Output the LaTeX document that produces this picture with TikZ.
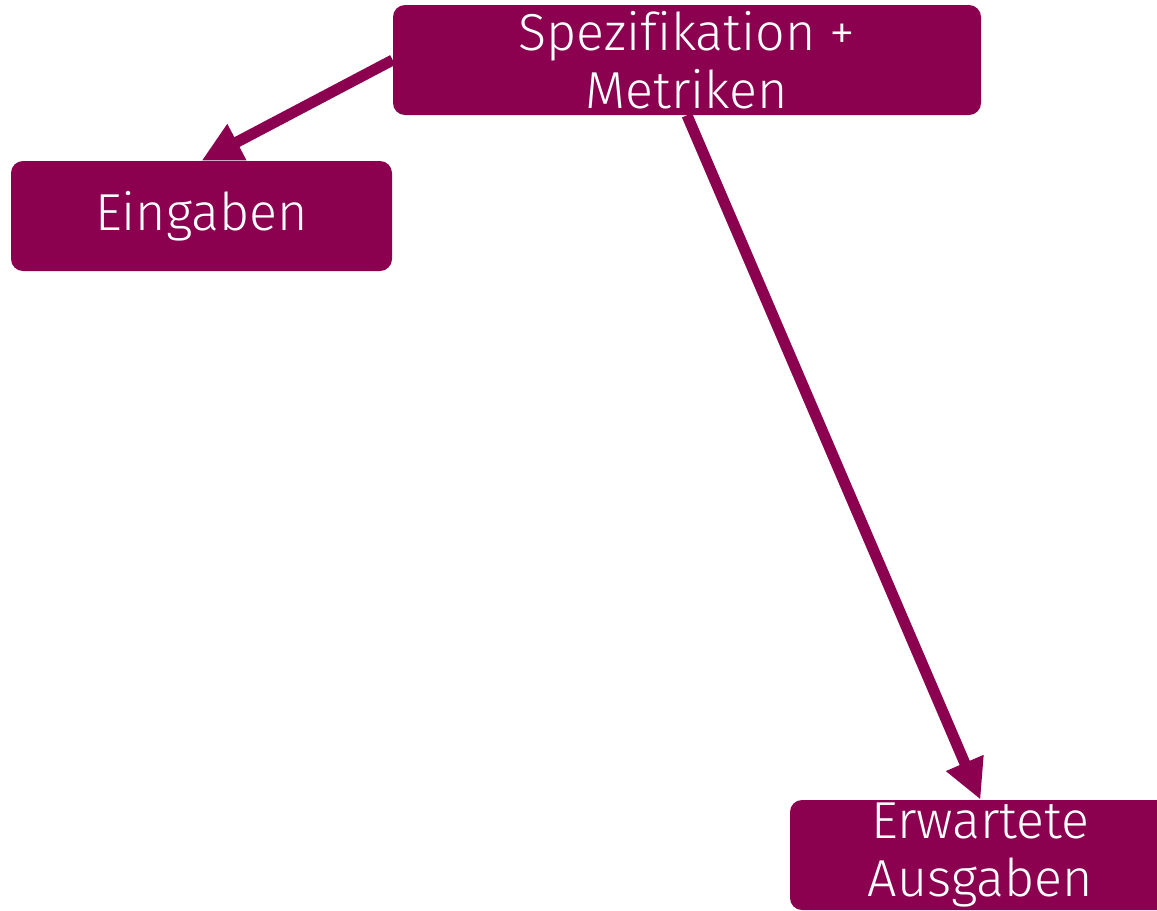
\documentclass[tikz,border=0pt]{standalone}
\usepackage{fontspec}
\setmainfont{Fira Sans}[UprightFont=* Light, Ligatures=NoCommon]
\usetikzlibrary{arrows.meta}
\definecolor{weinrot}{RGB}{139,0,79}
\begin{document}
\begin{tikzpicture} [x=0.025cm, y=-0.025cm,
  kasten/.style={fill=weinrot, rounded corners=0.3cm, text=white, align=center,
    inner sep=0pt, font=\fontsize{37}{41}\selectfont},
  pfeil/.style={weinrot, line width=0.275cm, -{Triangle[length=1cm,width=0.95cm]}}]
\useasboundingbox (0,0) rectangle (1157,910);
\node[kasten, minimum width=588*0.025cm, minimum height=110*0.025cm] (spec) at (687,60) {Spezifikation +\\Metriken};
\node[kasten, minimum width=381*0.025cm, minimum height=110*0.025cm] (ein) at (201.5,216) {Eingaben};
\node[kasten, minimum width=381*0.025cm, minimum height=110*0.025cm] (aus) at (980.5,855) {Erwartete\\Ausgaben};
\draw[pfeil] (spec.west) -- (ein.north);
\draw[pfeil] (spec.south) -- (aus.north);
\end{tikzpicture}
\end{document}
